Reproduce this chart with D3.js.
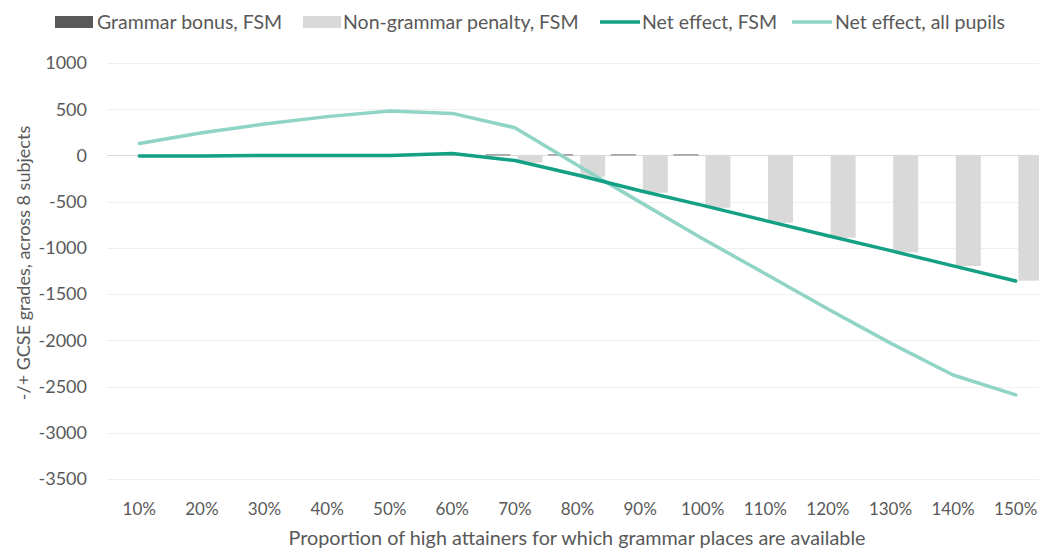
<!DOCTYPE html>
<html lang="en">
<head>
<meta charset="UTF-8">
<title>Grammar places chart</title>
<script src="https://d3js.org/d3.v7.min.js"></script>
<style>
  body { margin: 0; background: #fff; }
  text { font-family: Lato, "Open Sans", sans-serif; fill: #595959; }
</style>
</head>
<body>
<div id="chart"></div>
<script>
// categories and series
const categories = ["10%", "20%", "30%", "40%", "50%", "60%", "70%", "80%",
  "90%", "100%", "110%", "120%", "130%", "140%", "150%"];
const grammarBonus = [0, 0, 0, 0, 0, 0, 12, 12, 12, 12, 0, 0, 0, 0, 0];
const nonGrammarPenalty = [0, 0, 0, 0, 0, 0, -79, -230, -403, -566, -728, -890, -1048, -1196, -1355];
const netFsm = [-5, -5, 0, 0, 0, 20, -55, -212, -382, -540, -705, -868, -1030, -1195, -1358];
const netAll = [130, 245, 340, 420, 482, 455, 300, -105, -505, -900, -1280, -1660, -2030, -2375, -2590];
const yTicks = [1000, 500, 0, -500, -1000, -1500, -2000, -2500, -3000, -3500];

const width = 1039, height = 552;
const svg = d3.select("#chart").append("svg")
  .attr("width", width).attr("height", height);

const x = d3.scaleBand().domain(categories).range([108, 1047]).padding(0);
const y = d3.scaleLinear().domain([-3500, 1000]).range([479, 63]);

// gridlines
svg.append("g").selectAll("line").data(yTicks).join("line")
  .attr("x1", 107).attr("x2", width)
  .attr("y1", d => Math.round(y(d)) + 0.5).attr("y2", d => Math.round(y(d)) + 0.5)
  .attr("stroke", d => d === 0 ? "#d9d9d9" : "#efefef")
  .attr("stroke-width", 1);

// y tick labels
svg.append("g").selectAll("text").data(yTicks).join("text")
  .attr("x", 87).attr("y", d => y(d)).attr("dy", "0.35em")
  .attr("text-anchor", "end").style("font-size", "18px")
  .text(d => d);

// bars
const barW = 25;
const bars = svg.append("g");
bars.selectAll("rect.bonus").data(categories).join("rect")
  .attr("class", "bonus")
  .attr("x", d => x(d) + 2)
  .attr("width", barW)
  .attr("y", (d, i) => y(Math.max(0, grammarBonus[i])))
  .attr("height", (d, i) => Math.abs(y(grammarBonus[i]) - y(0)))
  .attr("fill", "#7f7f7f");
bars.selectAll("rect.penalty").data(categories).join("rect")
  .attr("class", "penalty")
  .attr("x", d => x(d) + 2 + barW + 7)
  .attr("width", barW)
  .attr("y", (d, i) => y(Math.max(0, nonGrammarPenalty[i])))
  .attr("height", (d, i) => Math.abs(y(nonGrammarPenalty[i]) - y(0)))
  .attr("fill", "#d9d9d9");

// lines
const line = d3.line()
  .x((d, i) => x(categories[i]) + x.bandwidth() / 2)
  .y(d => y(d));
svg.append("path").datum(netAll)
  .attr("d", line).attr("fill", "none")
  .attr("stroke", "#8fd4c4").attr("stroke-width", 3.5)
  .attr("stroke-linecap", "round").attr("stroke-linejoin", "round");
svg.append("path").datum(netFsm)
  .attr("d", line).attr("fill", "none")
  .attr("stroke", "#13a085").attr("stroke-width", 3.5)
  .attr("stroke-linecap", "round").attr("stroke-linejoin", "round");

// x tick labels
svg.append("g").selectAll("text").data(categories).join("text")
  .attr("x", d => x(d) + x.bandwidth() / 2).attr("y", 515)
  .attr("text-anchor", "middle").style("font-size", "17px")
  .text(d => d);

// axis titles
svg.append("text")
  .attr("x", 577).attr("y", 545)
  .attr("text-anchor", "middle").style("font-size", "19.8px")
  .text("Proportion of high attainers for which grammar places are available");
svg.append("text")
  .attr("transform", "translate(30,263) rotate(-90)")
  .attr("text-anchor", "middle").style("font-size", "18px")
  .text("-/+ GCSE grades, across 8 subjects");

// legend
const legend = [
  { name: "Grammar bonus, FSM", type: "rect", color: "#595959", x: 55, tx: 97 },
  { name: "Non-grammar penalty, FSM", type: "rect", color: "#d9d9d9", x: 303, tx: 343 },
  { name: "Net effect, FSM", type: "line", color: "#13a085", x: 600, tx: 642 },
  { name: "Net effect, all pupils", type: "line", color: "#8fd4c4", x: 792, tx: 835 }
];
const lg = svg.append("g").selectAll("g").data(legend).join("g");
lg.filter(d => d.type === "rect").append("rect")
  .attr("x", d => d.x).attr("y", 16).attr("width", 38).attr("height", 12)
  .attr("fill", d => d.color);
lg.filter(d => d.type === "line").append("line")
  .attr("x1", d => d.x).attr("x2", d => d.x + 40)
  .attr("y1", 22).attr("y2", 22)
  .attr("stroke", d => d.color).attr("stroke-width", 3.5);
lg.append("text")
  .attr("x", d => d.tx).attr("y", 22).attr("dy", "0.35em")
  .style("font-size", "19.5px")
  .text(d => d.name);
</script>
</body>
</html>
